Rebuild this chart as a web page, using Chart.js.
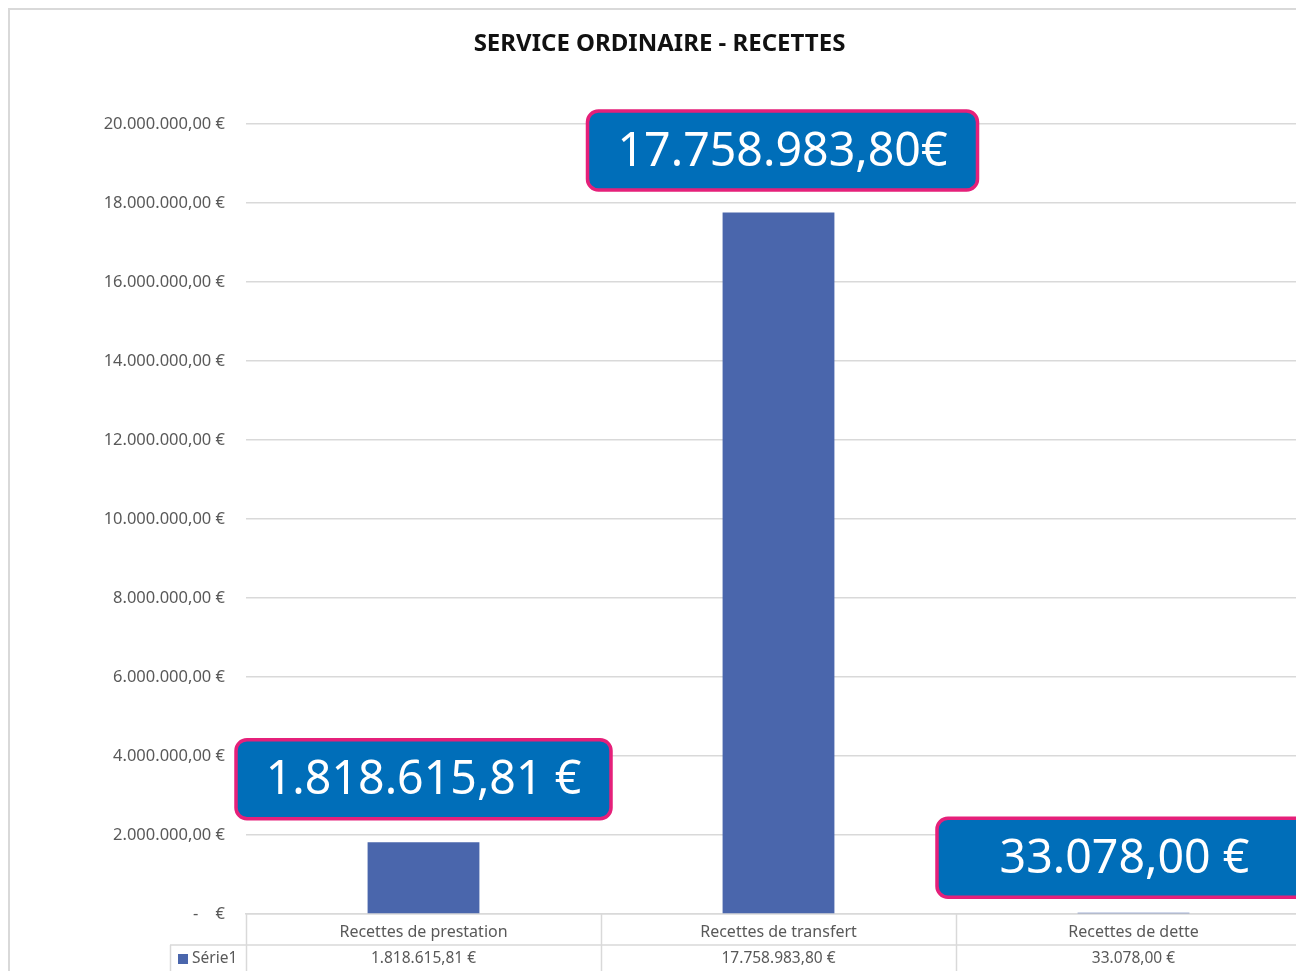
<html>
  <head>
    <script src="https://cdn.jsdelivr.net/npm/chart.js@4.4.0/dist/chart.umd.min.js"></script>
    <title>Service ordinaire - recettes</title>
    <style>
      body { margin: 0; overflow: hidden; background: #fff; }
      #myChart { position: absolute; left: 0; top: 0; }
    </style>
  </head>
  <body>
    <canvas id="myChart" width="1318" height="990"></canvas>
    <script>
// données du graphique
const categories = ['Recettes de prestation', 'Recettes de transfert', 'Recettes de dette'];
const serie1 = [1818615.81, 17758983.80, 33078.00];
const serieName = 'Série1';
const calloutSuffix = [' €', '€', ' €'];
const yTicks = [0, 2000000, 4000000, 6000000, 8000000, 10000000, 12000000, 14000000, 16000000, 18000000, 20000000];

// 1234567.8 -> "1.234.567,80"
function fmt(v) {
  const parts = v.toFixed(2).split('.');
  const ent = parts[0].replace(/\B(?=(\d{3})+(?!\d))/g, '.');
  return ent + ',' + parts[1];
}

const grey = '#d9d9d9';
const txt = '#595959';

// cadre du graphique (bordure grise)
const frame = {
  id: 'frame',
  beforeDraw(chart) {
    const c = chart.ctx;
    c.save();
    c.strokeStyle = grey;
    c.lineWidth = 2;
    c.strokeRect(9, 9, chart.width + 50, chart.height + 50);
    c.restore();
  }
};

// tableau de données sous l'axe des x
const dataTable = {
  id: 'dataTable',
  afterDraw(chart) {
    const c = chart.ctx;
    const x = chart.scales.x;
    const top = chart.chartArea.bottom;
    const row2 = top + 31;
    const bottom = chart.height;
    const n = categories.length;
    const w = (x.right - x.left) / n;
    c.save();
    c.strokeStyle = grey;
    c.lineWidth = 1.5;
    c.beginPath();
    for (let i = 0; i <= n; i++) {
      const px = Math.round(x.left + i * w) + 0.5;
      c.moveTo(px, top);
      c.lineTo(px, bottom);
    }
    c.moveTo(170, row2);
    c.lineTo(x.right, row2);
    c.moveTo(170.5, row2);
    c.lineTo(170.5, bottom);
    c.stroke();

    c.font = '15.5px "Noto Sans"';
    c.fillStyle = txt;
    c.textBaseline = 'middle';
    c.textAlign = 'center';
    const ty = row2 + 14;
    for (let i = 0; i < n; i++) {
      c.fillText(fmt(serie1[i]) + ' €', x.getPixelForValue(i), ty);
    }
    c.fillStyle = '#4a66ac';
    c.fillRect(178, ty - 5, 10, 10);
    c.fillStyle = txt;
    c.textAlign = 'left';
    c.fillText(serieName, 192, ty);
    c.restore();
  }
};

// étiquettes encadrées au-dessus des barres
const callouts = {
  id: 'callouts',
  afterDatasetsDraw(chart, args, opts) {
    const c = chart.ctx;
    const bars = chart.getDatasetMeta(0).data;
    c.save();
    c.font = '46.5px "Noto Sans"';
    c.textAlign = 'center';
    c.textBaseline = 'middle';
    bars.forEach((bar, i) => {
      const o = opts.offsets[i];
      const bw = opts.widths[i], bh = 79;
      const cx = bar.x + o.dx, cy = bar.y + o.dy;
      c.beginPath();
      c.roundRect(cx - bw / 2, cy - bh / 2, bw, bh, 11);
      c.fillStyle = '#006eb9';
      c.fill();
      c.lineWidth = 3.5;
      c.strokeStyle = '#e5207a';
      c.stroke();
      c.fillStyle = '#ffffff';
      c.fillText(fmt(serie1[i]) + calloutSuffix[i], cx, cy + 2);
    });
    c.restore();
  }
};

var ctx = document.getElementById('myChart');
var myChart = new Chart(ctx, {
  type: 'bar',
  data: {
    labels: categories,
    datasets: [{
      label: serieName,
      data: serie1,
      backgroundColor: '#4a66ac',
      borderWidth: 0,
      barPercentage: 1,
      categoryPercentage: 0.315
    }]
  },
  options: {
    responsive: false,
    animation: false,
    devicePixelRatio: 1,
    layout: { padding: { left: 8, right: 7, top: 0, bottom: 14 } },
    plugins: {
      legend: { display: false },
      tooltip: { enabled: false },
      title: {
        display: true,
        text: 'SERVICE ORDINAIRE - RECETTES',
        color: '#111',
        font: { family: '"Noto Sans"', size: 24, weight: 'bold', lineHeight: 1.2 },
        padding: { top: 29.6, bottom: 65.6 }
      },
      callouts: {
        offsets: [{ dx: 0, dy: -63 }, { dx: 4, dy: -62 }, { dx: -9, dy: -55 }],
        widths: [375, 390, 375]
      }
    },
    scales: {
      x: {
        afterFit: (s) => { s.height = 62; },
        border: { display: true, color: grey, width: 1.5 },
        grid: { display: false },
        ticks: {
          padding: 1,
          color: txt,
          font: { family: '"Noto Sans"', size: 16 },
          maxRotation: 0
        }
      },
      y: {
        min: 0,
        max: 20000000,
        afterFit: (s) => { s.width = 238; },
        afterBuildTicks: (s) => { s.ticks = yTicks.map(v => ({ value: v })); },
        border: { display: false },
        grid: { color: grey, lineWidth: 1.5, drawTicks: false },
        ticks: {
          padding: 21,
          color: txt,
          font: { family: '"Noto Sans"', size: 16.5 },
          callback: (v) => v === 0 ? '-    €' : fmt(v) + ' €'
        }
      }
    }
  },
  plugins: [frame, dataTable, callouts]
});
    </script>
  </body>
</html>
